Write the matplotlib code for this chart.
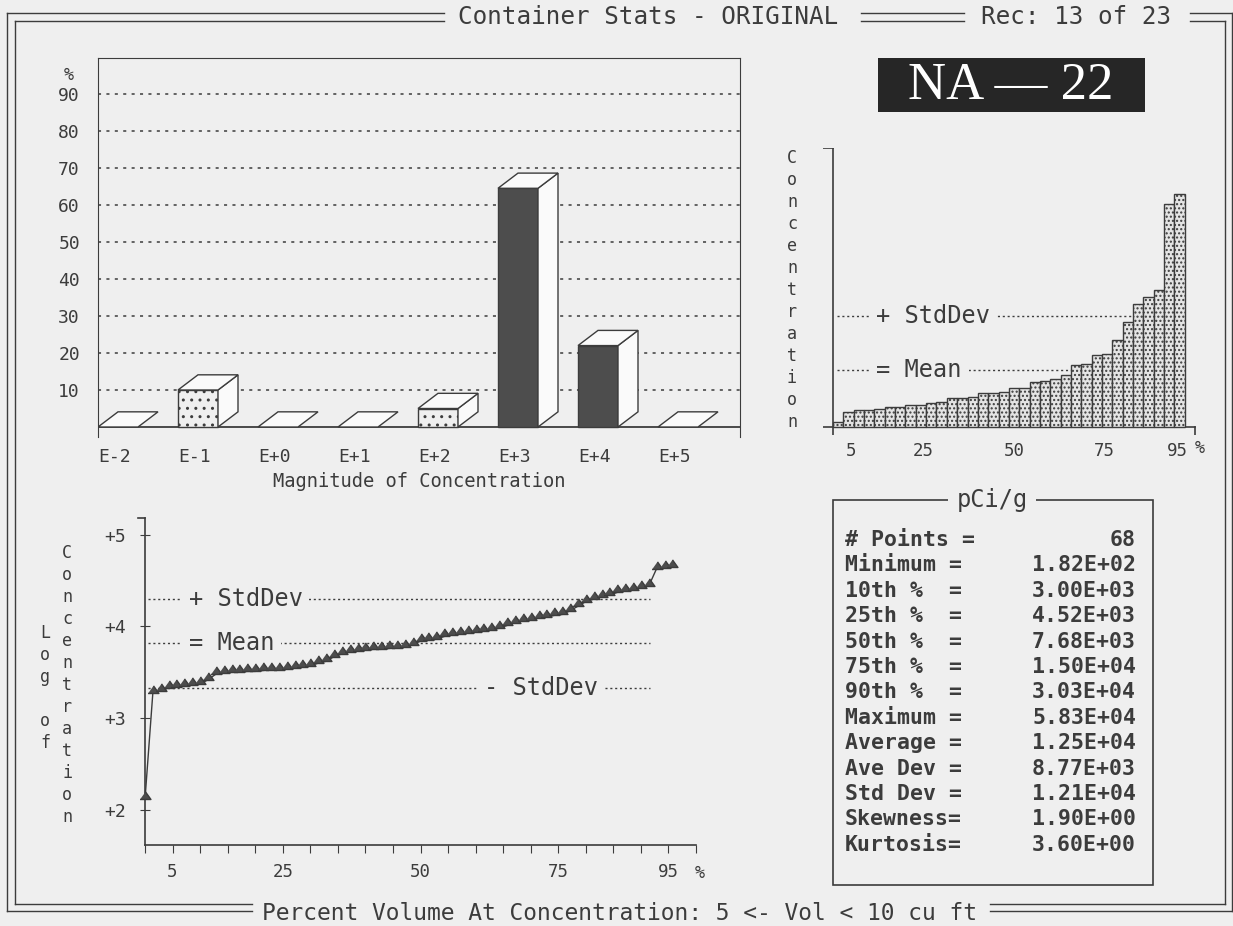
import numpy as np
import matplotlib
matplotlib.use('Agg')
import matplotlib.pyplot as plt
from matplotlib.patches import Polygon, Rectangle

# ---- data ----
magnitudes = ['E-2', 'E-1', 'E+0', 'E+1', 'E+2', 'E+3', 'E+4', 'E+5']
pct_volume = [0, 10, 0, 0, 5, 64.5, 22, 0]

# concentration, containers taken two at a time (thousand pCi/g)
hist_conc = [1.1, 3.3, 3.7, 3.8, 4.0, 4.4, 4.4, 4.8, 4.8, 5.2,
             5.5, 6.3, 6.5, 6.6, 7.4, 7.4, 7.7, 8.5, 8.7, 9.9,
             10.2, 10.7, 11.4, 13.6, 14.0, 15.8, 16.2, 19.1, 23.2, 27.1,
             28.8, 30.2, 49.3, 51.5]
hist_mean = 12.5
hist_plus_sd = 24.6

# log10 of concentration, sorted, one per container
log_conc = [2.12, 3.28, 3.30, 3.33, 3.34, 3.35, 3.36, 3.37, 3.42, 3.48,
            3.49, 3.50, 3.50, 3.51, 3.51, 3.52, 3.53, 3.53, 3.54, 3.55,
            3.56, 3.57, 3.60, 3.62, 3.67, 3.70, 3.72, 3.73, 3.74, 3.75,
            3.75, 3.76, 3.77, 3.78, 3.80, 3.84, 3.85, 3.86, 3.89, 3.91,
            3.92, 3.93, 3.94, 3.95, 3.96, 3.98, 4.01, 4.04, 4.06, 4.07,
            4.09, 4.10, 4.12, 4.13, 4.17, 4.22, 4.27, 4.30, 4.32, 4.34,
            4.37, 4.39, 4.40, 4.42, 4.44, 4.63, 4.64, 4.65]
log_mean = 3.82
log_plus_sd = 4.30
log_minus_sd = 3.33

vol_step = 100 / 70   # percent volume per container

stat_names = ['# Points =', 'Minimum =', '10th %  =', '25th %  =', '50th %  =',
              '75th %  =', '90th %  =', 'Maximum =', 'Average =', 'Ave Dev =',
              'Std Dev =', 'Skewness=', 'Kurtosis=']
stat_values = ['68', '1.82E+02', '3.00E+03', '4.52E+03', '7.68E+03',
               '1.50E+04', '3.03E+04', '5.83E+04', '1.25E+04', '8.77E+03',
               '1.21E+04', '1.90E+00', '3.60E+00']

# ---- look ----
BG = '#efefef'
INK = '#3c3c3c'
W, H = 1233, 926
plt.rcParams['font.family'] = ['DejaVu Sans Mono', 'DejaVu Sans']
plt.rcParams['text.color'] = INK
plt.rcParams['axes.labelcolor'] = INK
plt.rcParams['xtick.color'] = INK
plt.rcParams['ytick.color'] = INK
plt.rcParams['hatch.linewidth'] = 1.0

fig = plt.figure(figsize=(W / 100, H / 100), dpi=100, facecolor=BG)


def px_axes(x0, y0, x1, y1):
    ax = fig.add_axes([x0 / W, 1 - y1 / H, (x1 - x0) / W, (y1 - y0) / H])
    ax.patch.set_alpha(0)
    return ax


# background layer in pixel coords: frame, header, boxes
bg = fig.add_axes([0, 0, 1, 1])
bg.set_xlim(0, W)
bg.set_ylim(H, 0)
bg.axis('off')

lk = dict(color=INK, lw=1.0)
# header double line
for xs, y in [((7, 444), 13), ((15, 444), 21), ((861, 964), 13), ((861, 964), 21),
              ((1190, 1232), 13), ((1190, 1225), 21)]:
    bg.plot(xs, [y, y], **lk)
# side and bottom double lines
bg.plot([7, 7], [13, 911], **lk)
bg.plot([15, 15], [21, 904], **lk)
bg.plot([1225, 1225], [21, 904], **lk)
bg.plot([1232, 1232], [13, 911], **lk)
for xs, y in [((7, 252), 911), ((15, 252), 904), ((990, 1232), 911), ((990, 1225), 904)]:
    bg.plot(xs, [y, y], **lk)
bg.text(648, 17, 'Container Stats - ORIGINAL', fontsize=17.5, ha='center', va='center')
bg.text(1076, 17, 'Rec: 13 of 23', fontsize=17.5, ha='center', va='center')
bg.text(620, 913, 'Percent Volume At Concentration: 5 <- Vol < 10 cu ft',
        fontsize=16.5, ha='center', va='center')

# isotope label
bg.add_patch(Rectangle((878, 58), 267, 54, facecolor='#262626', edgecolor='none'))
bg.text(1011, 86, 'NA — 22', family='Liberation Serif', fontsize=38,
        color='white', ha='center', va='center')

# ---- top left: 3D bars by magnitude ----
ax1 = px_axes(98, 58, 740, 437)
xmax = 8.025
ax1.set_xlim(0, xmax)
ax1.set_ylim(-2.7, 99.7)
for s in ['left', 'right', 'top']:
    ax1.spines[s].set_color(INK)
ax1.spines['bottom'].set_visible(False)
ax1.axhline(0, color=INK, lw=1.3, zorder=2)
for g in range(10, 100, 10):
    ax1.plot([0, xmax], [g, g], ls=(0, (2, 3.5)), color=INK, lw=1.1, zorder=1)

dx, dy = 0.25, 4.1
for i, v in enumerate(pct_volume):
    if v <= 0:
        ax1.add_patch(Polygon([(i, 0), (i + 0.5, 0), (i + 0.5 + dx, dy), (i + dx, dy)],
                              facecolor='#fafafa', edgecolor=INK, lw=1, zorder=3))
        continue
    dark = v > 15
    ax1.add_patch(Rectangle((i, 0), 0.5, v, facecolor='#4d4d4d' if dark else BG,
                            hatch=None if dark else '..', edgecolor=INK, lw=1, zorder=3))
    ax1.add_patch(Polygon([(i + 0.5, 0), (i + 0.5 + dx, dy), (i + 0.5 + dx, v + dy), (i + 0.5, v)],
                          facecolor='#fafafa', edgecolor=INK, lw=1, zorder=3))
    ax1.add_patch(Polygon([(i, v), (i + 0.5, v), (i + 0.5 + dx, v + dy), (i + dx, v + dy)],
                          facecolor='#fafafa', edgecolor=INK, lw=1, zorder=3))

ax1.set_yticks(range(10, 100, 10))
ax1.set_xticks(range(len(magnitudes)))
ax1.set_xticklabels(magnitudes, ha='left')
ax1.tick_params(axis='y', length=0, pad=13, labelsize=13)
ax1.tick_params(axis='x', length=0, pad=8, labelsize=13)
ax1.set_xlabel('Magnitude of Concentration', fontsize=13.5, labelpad=4)
bg.text(69, 75, '%', fontsize=12, ha='center', va='center')

# ---- top right: concentration by percent volume ----
ax2 = px_axes(823, 148, 1197, 435)
ax2.set_xlim(-2.76, 100.5)
ax2.set_ylim(-1.77, 61.6)
for s in ax2.spines.values():
    s.set_visible(False)
ax2.plot([0, 0], [-1.77, 61.6], color=INK, lw=1.2)
ax2.plot([-2.76, 100], [0, 0], color=INK, lw=1.2)
ax2.plot([100, 100], [0, -1.77], color=INK, lw=1.2)
ax2.plot([-2.76, 0], [61.6, 61.6], color=INK, lw=1.2)
bw = 2 * vol_step
ax2.bar(np.arange(len(hist_conc)) * bw, hist_conc, width=bw, align='edge',
        facecolor='#e4e4e4', edgecolor=INK, hatch='....', lw=1, zorder=3)
for val, lab in [(hist_plus_sd, '+ StdDev'), (hist_mean, '= Mean')]:
    ax2.plot([1, 95], [val, val], ls=(0, (1.5, 2)), color=INK, lw=1, zorder=2)
    ax2.text(12, val, lab, fontsize=17, ha='left', va='center', zorder=2.5,
             bbox=dict(facecolor=BG, edgecolor='none', pad=5))
ax2.set_xticks([5, 25, 50, 75, 95])
ax2.set_yticks([])
ax2.tick_params(axis='x', length=0, pad=5, labelsize=12.5)
bg.text(1200, 448, '%', fontsize=12, ha='center', va='center')
bg.text(792, 290, '\n'.join('Concentration'), fontsize=12, ha='center', va='center',
        linespacing=1.29)

# ---- bottom left: log concentration vs percent volume ----
ax3 = px_axes(145, 518, 696, 845)
ax3.set_xlim(0, 100)
ax3.set_ylim(1.62, 5.18)
for s in ['top', 'right']:
    ax3.spines[s].set_visible(False)
for s in ['left', 'bottom']:
    ax3.spines[s].set_color(INK)
    ax3.spines[s].set_linewidth(1.2)
ax3.plot([-1.2, 0], [5.18, 5.18], color=INK, lw=1.2, clip_on=False)
for val, lab, xt in [(log_plus_sd, '+ StdDev', 7.9), (log_mean, '= Mean', 7.9),
                     (log_minus_sd, '- StdDev', 61.5)]:
    ax3.plot([0.5, 91.7], [val, val], ls=(0, (1.5, 2)), color=INK, lw=1, zorder=1)
    ax3.text(xt, val, lab, fontsize=17, ha='left', va='center', zorder=1.5,
             bbox=dict(facecolor=BG, edgecolor='none', pad=5))
tri = [(-1, 0), (1, 0), (0, 1.4)]
ax3.plot(np.arange(len(log_conc)) * vol_step, log_conc, color=INK, lw=1,
         marker=tri, ms=11, mfc='#4d4d4d', mec=INK, clip_on=False, zorder=3)
ax3.set_yticks([2, 3, 4, 5])
ax3.set_yticklabels(['+2', '+3', '+4', '+5'])
ticks = list(range(0, 101, 5))
ax3.set_xticks(ticks)
ax3.set_xticklabels([str(t) if t in (5, 25, 50, 75, 95) else '' for t in ticks])
ax3.tick_params(axis='y', direction='inout', length=7, pad=10, labelsize=13)
ax3.tick_params(axis='x', direction='out', length=6, pad=7, labelsize=12.5)
bg.text(700, 873, '%', fontsize=12, ha='center', va='center')
bg.text(67, 685, '\n'.join('Concentration'), fontsize=12, ha='center', va='center',
        linespacing=1.29)
bg.text(45, 624, 'L\no\ng\n\no\nf', fontsize=12, ha='center', va='top', linespacing=1.29)

# ---- stats box ----
bg.add_patch(Rectangle((833, 500), 320, 385, fill=False, edgecolor=INK, lw=1.2))
bg.text(992, 500, 'pCi/g', fontsize=17, ha='center', va='center',
        bbox=dict(facecolor=BG, edgecolor='none', pad=6))
for k, (name, val) in enumerate(zip(stat_names, stat_values)):
    y = 540 + k * 25.4
    bg.text(845, y, name, fontsize=15.5, fontweight='bold', ha='left', va='center')
    bg.text(1136, y, val, fontsize=15.5, fontweight='bold', ha='right', va='center')

fig.savefig('out.png', dpi=100, facecolor=BG)
